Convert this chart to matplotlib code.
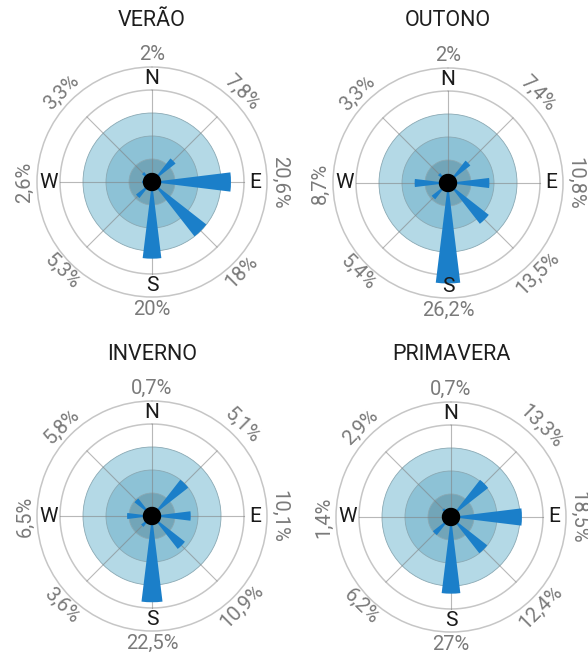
import numpy as np
import matplotlib
matplotlib.use("Agg")
import matplotlib.pyplot as plt

plt.rcParams['font.family'] = ['Roboto', 'DejaVu Sans']

# directions clockwise from north
directions = ['N', 'NE', 'E', 'SE', 'S', 'SW', 'W', 'NW']
cardinals = {'N': 0, 'E': 2, 'S': 4, 'W': 6}

seasons = ['VERÃO', 'OUTONO', 'INVERNO', 'PRIMAVERA']

# bar lengths (%) as drawn in the picture
verao_bars = [2, 7.8, 20.6, 18, 20, 5.3, 2.6, 3.3]
outono_bars = [2, 7.4, 10.8, 13.5, 26.2, 5.4, 8.7, 3.3]
inverno_bars = [0.7, 12, 10.1, 10.9, 22.5, 3.6, 6.5, 5.8]
primavera_bars = [0.7, 12.3, 18.5, 12.0, 20, 6.0, 1.4, 2.9]

# percentage labels around each rose
verao_labels = ['2%', '7,8%', '20,6%', '18%', '20%', '5,3%', '2,6%', '3,3%']
outono_labels = ['2%', '7,4%', '10,8%', '13,5%', '26,2%', '5,4%', '8,7%', '3,3%']
inverno_labels = ['0,7%', '5,1%', '10,1%', '10,9%', '22,5%', '3,6%', '6,5%', '5,8%']
primavera_labels = ['0,7%', '13,3%', '18,5%', '12,4%', '27%', '6,2%', '1,4%', '2,9%']

all_bars = [verao_bars, outono_bars, inverno_bars, primavera_bars]
all_labels = [verao_labels, outono_labels, inverno_labels, primavera_labels]

# reference rings
disc_levels = [18, 12, 6]
disc_colors = ['#b4d9e6', '#8dc2d6', '#72a5b8']
ring_levels = [24, 30]

W, H = 588, 656
R = 115  # px radius of outer ring
centers = [(152, 182), (448, 183), (152, 516), (451, 517)]
title_pos = [(152, 20), (448, 20), (152, 354), (451, 355)]

fig = plt.figure(figsize=(W / 100, H / 100), dpi=100)

for season, bars, labels, (cx, cy), (tx, ty) in zip(seasons, all_bars, all_labels, centers, title_pos):
    ax = fig.add_axes([(cx - R) / W, (H - cy - R) / H, 2 * R / W, 2 * R / H], projection='polar')
    ax.set_theta_zero_location('N')
    ax.set_theta_direction(-1)
    ax.set_ylim(0, 30)
    ax.grid(False)
    ax.set_xticks([])
    ax.set_yticks([])
    ax.set_facecolor('white')
    ax.spines['polar'].set_color('#c6c6c6')
    ax.spines['polar'].set_linewidth(1.1)

    # filled discs
    for lev, col in zip(disc_levels, disc_colors):
        ax.bar(0, lev, width=2 * np.pi, bottom=0, color=col, edgecolor='#8aa9b4',
               linewidth=0.6, zorder=1)

    theta = np.linspace(0, 2 * np.pi, 361)
    ax.plot(theta, np.full_like(theta, ring_levels[0]), color='#c6c6c6', lw=1.1, zorder=2)

    angles = np.deg2rad(np.arange(8) * 45)
    for a in angles:
        ax.plot([a, a], [0, ring_levels[0]], color='#7f7f7f', lw=0.8, alpha=0.55, zorder=2)

    ax.bar(angles, bars, width=np.deg2rad(14), bottom=0, color='#1b7fc9',
           edgecolor='none', zorder=3)
    ax.bar(0, 2.4, width=2 * np.pi, bottom=0, color='black', zorder=4)

    for name, idx in cardinals.items():
        ax.text(angles[idx], 26.9, name, ha='center', va='center', fontsize=15,
                color='#1a1a1a', zorder=5)

    for i, lab in enumerate(labels):
        bearing = i * 45
        rot = -bearing
        if rot < -90:
            rot += 180
        if bearing > 180:
            rot = 360 - bearing
            if rot > 90:
                rot -= 180
        ax.text(angles[i], 33.2, lab, ha='center', va='center', fontsize=14.5,
                color='#7a7a7a', rotation=rot, rotation_mode='anchor')

    fig.text(tx / W, 1 - ty / H, season, ha='center', va='center', fontsize=15.5,
             color='#1e1e1e')

fig.savefig('out.png', dpi=100, facecolor='white')
